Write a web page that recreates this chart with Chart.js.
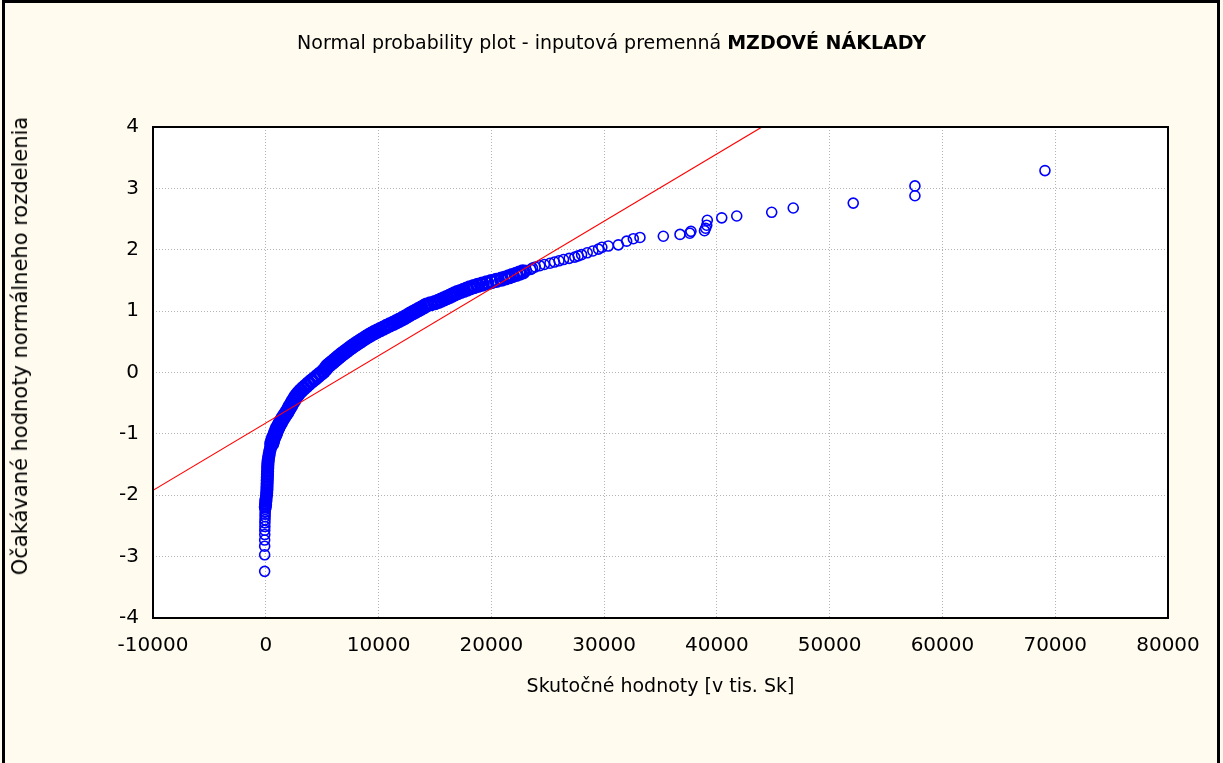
<!DOCTYPE html>
<html lang="sk">
<head>
<meta charset="utf-8">
<title>Normal probability plot - MZDOVÉ NÁKLADY</title>
<script src="https://cdn.jsdelivr.net/npm/chart.js@4/dist/chart.umd.min.js"></script>
<style>
  html, body { margin: 0; padding: 0; background: #fffbef; }
  body { width: 1223px; height: 763px; position: relative; overflow: hidden; font-family: "DejaVu Sans", sans-serif; }
  .frame { position: absolute; left: 2px; top: 0; width: 1212px; height: 800px; border: 3px solid #000; border-bottom: none; }
  .title { position: absolute; left: 0; width: 1223px; top: 31px; text-align: center; font-size: 19px; color: #000; }
  .ytitle { position: absolute; left: 20px; top: 346px; width: 0; height: 0; }
  .ytitle span { position: absolute; left: 0; top: 0; transform: translate(-50%, -50%) rotate(-90deg); white-space: nowrap; font-size: 21px; color: #000; }
  canvas { position: absolute; left: 0; top: 0; }
</style>
</head>
<body>
<div class="frame"></div>
<canvas id="npp" width="1223" height="763"></canvas>
<div class="title">Normal probability plot - inputová premenná <b>MZDOVÉ NÁKLADY</b></div>
<div class="ytitle"><span>Očakávané hodnoty normálneho rozdelenia</span></div>
<script>
// skutočné hodnoty (v tis. Sk) a očakávané hodnoty normálneho rozdelenia, odčítané z grafu
const skutocne = [
  -100, -100, -100, -100, -90, -90, -80, -80, -70, -60, -60, -50, -50,
  -40, -20, 0, 20, 60, 80, 100, 110, 120, 130, 140, 150, 160, 170, 180, 200, 230, 270, 320, 380, 450, 530, 610, 700, 800,
  880, 960, 1060, 1170, 1290, 1410, 1540, 1680, 1830, 1960, 2080, 2200, 2330, 2460, 2580, 2720, 2900, 3100, 3330, 3560, 3800, 4060, 4340, 4600, 4860, 5110, 5300, 5460,
  5620, 5780, 5950, 6120, 6280, 6440, 6600, 6770, 6940, 7130, 7320, 7500, 7690, 7880, 8080, 8280, 8490, 8710, 8930, 9150,
  9380, 9620, 9880, 10150, 10430, 10720, 11000, 11300, 11560, 11820, 12080, 12330, 12570, 12800, 13050, 13300, 13540, 13790, 14030, 14270,
  14600, 15000, 15300, 15550, 15800, 16050, 16300, 16520, 16750, 17000, 17280, 17550, 17830, 18100, 18450, 18800, 19200, 19600, 20000, 20450, 20900, 21250, 21550, 21850, 22200, 22500,
  22800, 23100, 23500, 23650, 23900, 24300, 24700, 25200, 25600, 26000, 26400, 26900, 27400, 27700, 28000, 28500, 29000, 29500, 29800, 30370, 31260, 32000, 32590, 33180,
  35250, 36730, 37600, 37700, 38900, 39000, 39100, 39150, 40430, 41760, 44860, 46770, 52090, 57560, 57560, 69090
];
const ocakavane = [
  -3.24, -2.97, -2.83, -2.73, -2.64, -2.57, -2.51, -2.45, -2.40, -2.35, -2.31, -2.27, -2.23,
  -2.19, -2.15, -2.10, -2.06, -2.01, -1.96, -1.91, -1.86, -1.81, -1.76, -1.71, -1.66, -1.61, -1.56, -1.51, -1.46, -1.41, -1.36, -1.31, -1.26, -1.21, -1.16, -1.11, -1.06, -1.02,
  -0.98, -0.94, -0.90, -0.86, -0.82, -0.78, -0.74, -0.70, -0.66, -0.62, -0.58, -0.54, -0.50, -0.46, -0.42, -0.38, -0.34, -0.30, -0.26, -0.22, -0.18, -0.14, -0.10, -0.06, -0.02, 0.02, 0.06, 0.10,
  0.125, 0.15, 0.175, 0.20, 0.225, 0.25, 0.275, 0.30, 0.325, 0.35, 0.375, 0.40, 0.425, 0.45, 0.475, 0.50, 0.525, 0.55, 0.575, 0.60,
  0.625, 0.65, 0.675, 0.70, 0.725, 0.75, 0.775, 0.80, 0.825, 0.85, 0.875, 0.90, 0.925, 0.95, 0.975, 1.00, 1.025, 1.05, 1.075, 1.10,
  1.12, 1.14, 1.16, 1.18, 1.20, 1.22, 1.24, 1.26, 1.28, 1.30, 1.32, 1.34, 1.36, 1.38, 1.40, 1.42, 1.44, 1.46, 1.48, 1.50, 1.52, 1.54, 1.56, 1.58, 1.60, 1.62,
  1.64, 1.66, 1.68, 1.70, 1.72, 1.74, 1.76, 1.78, 1.80, 1.82, 1.84, 1.86, 1.88, 1.90, 1.92, 1.95, 1.98, 2.01, 2.04, 2.06, 2.08, 2.14, 2.18, 2.20,
  2.22, 2.25, 2.27, 2.30, 2.31, 2.35, 2.40, 2.48, 2.52, 2.55, 2.61, 2.68, 2.76, 2.88, 3.04, 3.29
];
// priamka normálneho rozdelenia (koncové body)
const priamkaX = [-10000, 44000];
const priamkaY = [-1.92, 4.0];
// delenie osí
const xTicky = [-10000, 0, 10000, 20000, 30000, 40000, 50000, 60000, 70000, 80000];
const yTicky = [-4, -3, -2, -1, 0, 1, 2, 3, 4];

const FONT = "'DejaVu Sans', sans-serif";

// biela plocha grafu + čierny rámik okolo nej
const plotBox = {
  id: "plotBox",
  beforeDraw(chart) {
    const { ctx, chartArea: a } = chart;
    ctx.save();
    ctx.fillStyle = "#ffffff";
    ctx.fillRect(a.left, a.top, a.right - a.left, a.bottom - a.top);
    ctx.restore();
  },
  afterDraw(chart) {
    const { ctx, chartArea: a } = chart;
    ctx.save();
    ctx.strokeStyle = "#000";
    ctx.lineWidth = 2;
    ctx.strokeRect(a.left, a.top, a.right - a.left, a.bottom - a.top);
    ctx.restore();
  }
};

const grid = { color: "#b4b4b4", lineWidth: 1, drawTicks: false };
const border = { display: false, dash: [1, 2] };
// v hustom páse sa krúžky zlievajú – väčšie a hrubšie
const vPase = c => { const y = ocakavane[c.dataIndex]; return y > -2.2 && y < 1.66; };
const vStrede = c => { const y = ocakavane[c.dataIndex]; return y > -1.2 && y < 1.66; };

new Chart(document.getElementById("npp"), {
  type: "scatter",
  data: {
    datasets: [
      {
        type: "line",
        label: "priamka",
        data: priamkaX.map((x, i) => ({ x, y: priamkaY[i] })),
        borderColor: "#ff0000",
        borderWidth: 1.2,
        pointRadius: 0,
        fill: false,
        order: 0
      },
      {
        label: "MZDOVÉ NÁKLADY",
        data: skutocne.map((x, i) => ({ x, y: ocakavane[i] })),
        pointStyle: "circle",
        pointRadius: c => vStrede(c) ? 6 : 5,
        pointBorderWidth: c => vPase(c) ? 3.2 : 1.6,
        pointBorderColor: "#0000ff",
        pointBackgroundColor: "rgba(0,0,0,0)",
        order: 1
      }
    ]
  },
  options: {
    responsive: false,
    animation: false,
    events: [],
    layout: { padding: { left: 0, top: 127, right: 55, bottom: 0 } },
    plugins: { legend: { display: false }, tooltip: { enabled: false } },
    scales: {
      x: {
        type: "linear",
        min: -10000, max: 80000,
        afterBuildTicks: s => { s.ticks = xTicky.map(v => ({ value: v })); },
        afterFit: s => { s.height = 145; },
        grid, border,
        ticks: { color: "#000", padding: 16, maxRotation: 0, font: { family: FONT, size: 20 }, callback: v => String(v) },
        title: {
          display: true,
          text: "Skutočné hodnoty [v tis. Sk]",
          color: "#000",
          font: { family: FONT, size: 19 },
          padding: { top: 0, bottom: 65 }
        }
      },
      y: {
        type: "linear",
        min: -4, max: 4,
        afterBuildTicks: s => { s.ticks = yTicky.map(v => ({ value: v })); },
        afterFit: s => { s.width = 153; },
        grid, border,
        ticks: { color: "#000", padding: 14, font: { family: FONT, size: 20 }, callback: v => String(v) }
      }
    }
  },
  plugins: [plotBox]
});
</script>
</body>
</html>
